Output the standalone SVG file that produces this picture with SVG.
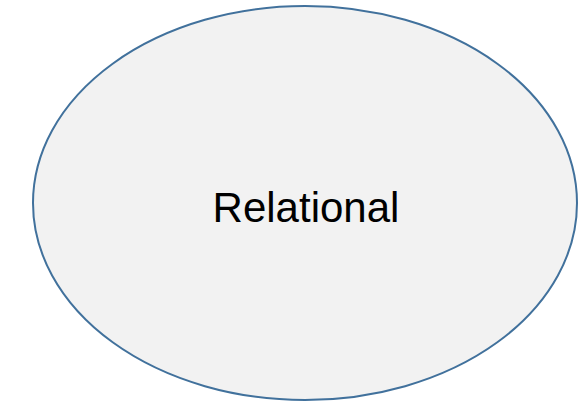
<svg xmlns="http://www.w3.org/2000/svg" width="580" height="402" viewBox="0 0 580 402">
<style>
.node-shape{fill:#f2f2f2;stroke:#41719c;stroke-width:2}
.label{font-family:"Liberation Sans",Arial,sans-serif;font-size:42px;fill:#000}
</style>
<rect width="580" height="402" fill="#ffffff"/>
<g id="connectors"></g>
<g id="relational">
<ellipse class="node-shape" cx="305" cy="203" rx="272" ry="197"/>
<text class="label" x="306" y="222" text-anchor="middle">Relational</text>
</g>
</svg>
